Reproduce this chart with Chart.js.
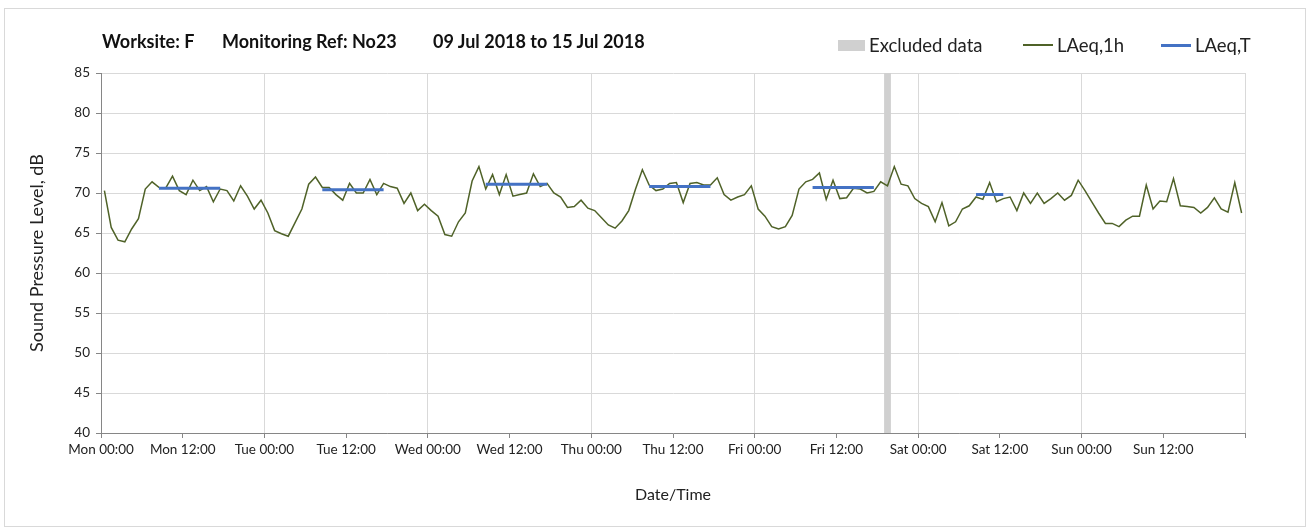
<!DOCTYPE html>
<html>
<head>
<meta charset="utf-8">
<title>Worksite F - N023</title>
<script src="https://cdn.jsdelivr.net/npm/chart.js@4.4.1/dist/chart.umd.min.js"></script>
<style>
  body { margin: 0; background: #fff; font-family: Lato, "Open Sans", sans-serif; }
  #wrap { position: relative; width: 1309px; height: 530px; }
  #frame { position: absolute; left: 4px; top: 8px; width: 1300px; height: 517px; border: 1px solid #d9d9d9; }
  #title span { position: absolute; top: 30px; font-weight: bold; font-size: 18px; color: #111; white-space: nowrap; }
  #legend { position: absolute; left: 838px; top: 34px; display: flex; font-size: 18.5px; color: #222; }
  #legend .item { display: flex; align-items: center; height: 22px; }
  #legend .sw { margin-right: 4px; }
  canvas { position: absolute; left: 0; top: 0; }
</style>
</head>
<body>
<div id="wrap">
  <div id="frame"></div>
  <canvas id="chartNoise" width="1309" height="530"></canvas>
  <div id="title">
    <span style="left:102px">Worksite: F</span>
    <span style="left:222px">Monitoring Ref: No23</span>
    <span style="left:433px">09 Jul 2018 to 15 Jul 2018</span>
  </div>
  <div id="legend"></div>
</div>
<script>
// hourly LAeq,1h values, one array per day (00:00 .. 23:00)
var mon = [70.3, 65.7, 64.1, 63.9, 65.5, 66.8, 70.5, 71.4, 70.7, 70.6, 72.1, 70.3, 69.8, 71.6, 70.3, 70.8, 68.9, 70.5, 70.3, 69.0, 70.9, 69.6, 68.0, 69.1];
var tue = [67.5, 65.3, 64.9, 64.6, 66.3, 68.0, 71.1, 72.0, 70.7, 70.7, 69.8, 69.1, 71.2, 70.0, 70.0, 71.7, 69.8, 71.2, 70.8, 70.6, 68.7, 70.0, 67.8, 68.6];
var wed = [67.8, 67.1, 64.8, 64.6, 66.4, 67.5, 71.5, 73.3, 70.5, 72.3, 69.8, 72.3, 69.6, 69.8, 70.0, 72.4, 70.8, 71.2, 70.0, 69.5, 68.2, 68.3, 69.1, 68.1];
var thu = [67.8, 66.9, 66.0, 65.6, 66.5, 67.8, 70.5, 72.9, 71.0, 70.3, 70.5, 71.2, 71.3, 68.8, 71.2, 71.3, 71.0, 71.0, 71.9, 69.8, 69.1, 69.5, 69.8, 70.9];
var fri = [68.0, 67.1, 65.8, 65.5, 65.8, 67.2, 70.5, 71.4, 71.7, 72.5, 69.2, 71.6, 69.3, 69.4, 70.6, 70.5, 70.0, 70.2, 71.4, 70.9, 73.3, 71.1, 70.9, 69.3];
var sat = [68.7, 68.3, 66.4, 68.8, 65.9, 66.4, 68.0, 68.4, 69.5, 69.2, 71.3, 68.9, 69.3, 69.5, 67.8, 70.0, 68.7, 70.0, 68.7, 69.3, 70.0, 69.1, 69.7, 71.6];
var sun = [70.3, 68.9, 67.5, 66.2, 66.2, 65.8, 66.6, 67.1, 67.1, 71.0, 68.0, 69.0, 68.9, 71.8, 68.4, 68.3, 68.2, 67.5, 68.2, 69.4, 68.0, 67.6, 71.3, 67.5];
var week = [mon, tue, wed, thu, fri, sat, sun];

// LAeq,T per day and the first / last hour it covers
var periodValue = [70.6, 70.4, 71.1, 70.8, 70.7, 69.8, null];
var periodFrom  = [8, 8, 8, 8, 8, 8, null];
var periodTo    = [17, 17, 17, 17, 17, 12, null];

// excluded hour (hours from Mon 00:00)
var excludedFrom = 115;
var excludedTo = 116;

var tickLabels = ['Mon 00:00', 'Mon 12:00', 'Tue 00:00', 'Tue 12:00', 'Wed 00:00', 'Wed 12:00', 'Thu 00:00',
                  'Thu 12:00', 'Fri 00:00', 'Fri 12:00', 'Sat 00:00', 'Sat 12:00', 'Sun 00:00', 'Sun 12:00'];

var hourly = [];
var i, j;
for (i = 0; i < week.length; i++) {
  for (j = 0; j < week[i].length; j++) {
    hourly.push({ x: i * 24 + j + 0.5, y: week[i][j] });
  }
}

var period = [];
for (i = 0; i < periodValue.length; i++) {
  if (periodValue[i] === null) continue;
  for (j = periodFrom[i]; j <= periodTo[i]; j++) {
    period.push({ x: i * 24 + j + 0.5, y: periodValue[i] });
  }
  period.push({ x: i * 24 + periodTo[i] + 1, y: null });
}

// html legend built from the datasets
var htmlLegend = {
  id: 'htmlLegend',
  afterUpdate: function(chart) {
    var box = document.getElementById('legend');
    var widths = [185, 138, 0];
    box.innerHTML = '';
    chart.data.datasets.forEach(function(ds, n) {
      var item = document.createElement('div');
      item.className = 'item';
      if (widths[n]) item.style.width = widths[n] + 'px';
      var sw = document.createElement('span');
      sw.className = 'sw';
      if (ds.fill) {
        sw.style.cssText = 'display:inline-block;width:27px;height:11px;background:' + ds.backgroundColor;
      } else {
        sw.style.cssText = 'display:inline-block;width:30px;height:' + ds.borderWidth + 'px;background:' + ds.borderColor;
      }
      var txt = document.createElement('span');
      txt.textContent = ds.label;
      item.appendChild(sw);
      item.appendChild(txt);
      box.appendChild(item);
    });
  }
};

Chart.defaults.font.family = 'Lato, "Open Sans", sans-serif';
Chart.defaults.color = '#222';

var ctx = document.getElementById('chartNoise').getContext('2d');
var chart = new Chart(ctx, {
  type: 'line',
  data: {
    datasets: [{
      label: 'Excluded data',
      data: [{ x: excludedFrom, y: 85 }, { x: excludedTo, y: 85 }],
      fill: 'start',
      backgroundColor: '#d0d0d0',
      borderColor: 'rgba(0,0,0,0)',
      borderWidth: 1,
      pointRadius: 0,
      order: 3
    }, {
      label: 'LAeq,1h',
      data: hourly,
      borderColor: '#4f6228',
      borderWidth: 1.5,
      pointRadius: 0,
      tension: 0,
      fill: false,
      order: 2
    }, {
      label: 'LAeq,T',
      data: period,
      borderColor: '#4472c4',
      borderWidth: 3,
      pointRadius: 0,
      tension: 0,
      fill: false,
      spanGaps: false,
      order: 1
    }]
  },
  options: {
    responsive: false,
    animation: false,
    layout: { padding: { top: 73, right: 64, bottom: 0, left: 0 } },
    plugins: {
      legend: { display: false },
      title: { display: false },
      tooltip: { enabled: false }
    },
    scales: {
      x: {
        type: 'linear',
        min: 0,
        max: 168,
        afterFit: function(scale) { scale.height = 97; },
        ticks: {
          stepSize: 12,
          autoSkip: false,
          maxRotation: 0,
          padding: 4,
          font: { size: 13.5 },
          color: '#222',
          callback: function(v) { return tickLabels[v / 12] || ''; }
        },
        grid: {
          color: function(c) { return c.tick && c.tick.value % 24 === 0 ? '#d9d9d9' : 'rgba(0,0,0,0)'; },
          tickColor: '#868686',
          tickLength: 5
        },
        border: { color: '#868686' },
        title: { display: true, text: 'Date/Time', font: { size: 16 }, color: '#222', padding: { top: 0, bottom: 26 } }
      },
      y: {
        min: 40,
        max: 85,
        afterFit: function(scale) { scale.width = 101; },
        ticks: { stepSize: 5, padding: 6, font: { size: 13.5 }, color: '#222' },
        grid: { color: '#d9d9d9', tickColor: '#868686', tickLength: 5 },
        border: { color: '#868686' },
        title: { display: true, text: 'Sound Pressure Level, dB', font: { size: 18 }, color: '#222', padding: { top: 26, bottom: 0 } }
      }
    }
  },
  plugins: [htmlLegend]
});
</script>
</body>
</html>
